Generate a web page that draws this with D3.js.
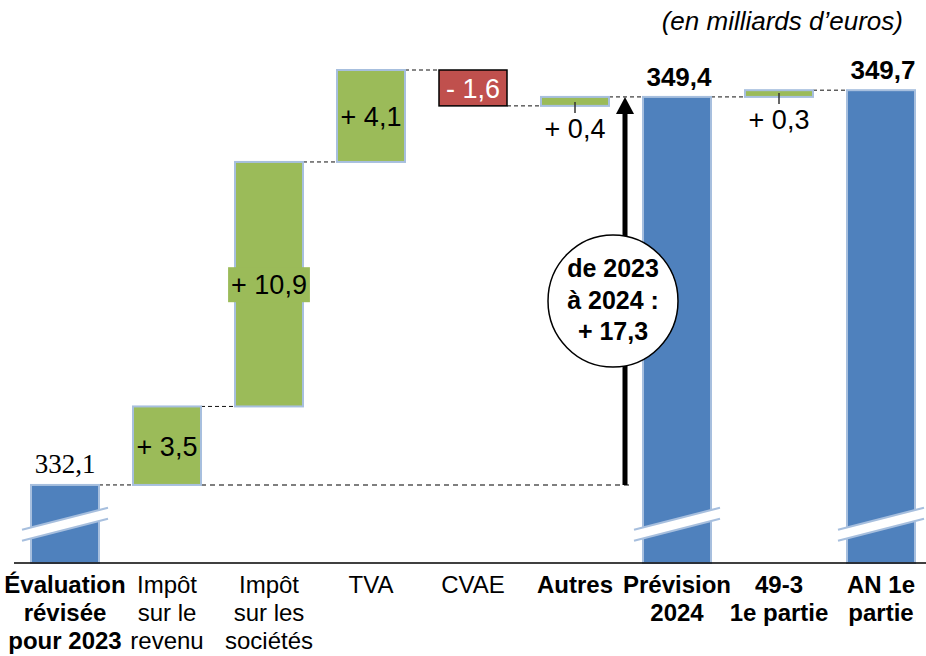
<!DOCTYPE html>
<html>
<head>
<meta charset="utf-8">
<script src="https://cdn.jsdelivr.net/npm/d3@7"></script>
<style>
  body { margin: 0; background: #fff; }
  svg { display: block; font-family: "Liberation Sans", Arial, sans-serif; }
</style>
</head>
<body>
<svg id="chart"></svg>
<script>
// data
const categories = [
  ["Évaluation", "révisée", "pour 2023"],
  ["Impôt", "sur le", "revenu"],
  ["Impôt", "sur les", "sociétés"],
  ["TVA"],
  ["CVAE"],
  ["Autres"],
  ["Prévision", "2024"],
  ["49-3", "1e partie"],
  ["AN 1e", "partie"]
]
const values = [332.1, 3.5, 10.9, 4.1, -1.6, 0.4, 349.4, 0.3, 349.7]
const kinds = ["total", "delta", "delta", "delta", "delta", "delta", "total", "delta", "total"]
const valueLabels = ["332,1", "+ 3,5", "+ 10,9", "+ 4,1", "- 1,6", "+ 0,4", "349,4", "+ 0,3", "349,7"]
const boldCategory = [true, false, false, false, false, true, true, true, true]
const unitLabel = "(en milliards d’euros)"
const bubbleLines = ["de 2023", "à 2024 :", "+ 17,3"]
const axisFloor = 328.62   // value shown at the broken baseline
const breakValue = 330.35  // where the axis break marks sit

const width = 926, height = 656
const baseY = 563

const svg = d3.select("#chart").attr("width", width).attr("height", height)

// running totals
let run = 0
const bars = values.map((v, i) => {
  let lo, hi
  if (kinds[i] === "total") { lo = axisFloor; hi = v; run = v }
  else { lo = run; hi = run + v; run = hi }
  return { i, v, kind: kinds[i], from: lo, to: hi, level: run }
})

const x = d3.scaleBand()
  .domain(d3.range(categories.length))
  .range([14, 932])
  .paddingInner(1 / 3)
  .paddingOuter(1 / 6)

const y = d3.scaleLinear()
  .domain([axisFloor, 350.6])
  .range([baseY, 70])

const bw = x.bandwidth()
const cx = i => x(i) + bw / 2

// connectors
const conn = svg.append("g")
bars.slice(0, -1).forEach((d, k) => {
  const x1 = x(k) + bw, x2 = x(k + 1)
  conn.append("line")
    .attr("x1", x1).attr("x2", x2)
    .attr("y1", y(d.level)).attr("y2", y(d.level))
    .attr("stroke", "#111").attr("stroke-width", 1)
    .attr("stroke-dasharray", "4,3")
})
// long reference line from 2023 level to the arrow
const arrowX = 625
conn.append("line")
  .attr("x1", x(1) + bw).attr("x2", arrowX + 8)
  .attr("y1", y(values[0])).attr("y2", y(values[0]))
  .attr("stroke", "#555").attr("stroke-width", 1.5)
  .attr("stroke-dasharray", "5,4")

// bars
const colorOf = d => d.kind === "total" ? "#4F81BD" : (d.v < 0 ? "#C0504D" : "#9BBB59")
svg.append("g").selectAll("rect")
  .data(bars)
  .join("rect")
  .attr("x", d => x(d.i))
  .attr("width", bw)
  .attr("y", d => y(Math.max(d.from, d.to)))
  .attr("height", d => Math.abs(y(d.from) - y(d.to)))
  .attr("fill", colorOf)
  .attr("stroke", d => d.v < 0 ? "#000" : "#A7BFDE")
  .attr("stroke-width", d => d.v < 0 ? 1.5 : 2)

// axis break marks on total bars
const bk = svg.append("g")
bars.filter(d => d.kind === "total").forEach(d => {
  const c = cx(d.i), yc = y(breakValue)
  const half = 43, rise = 11, gap = 5.5
  bk.append("path")
    .attr("d", `M${c - half},${yc + rise - gap} L${c + half},${yc - rise - gap} L${c + half},${yc - rise + gap} L${c - half},${yc + rise + gap} Z`)
    .attr("fill", "#fff")
  ;[-gap, gap].forEach(o => {
    bk.append("line")
      .attr("x1", c - half).attr("y1", yc + rise + o)
      .attr("x2", c + half).attr("y2", yc - rise + o)
      .attr("stroke", "#A7BFDE").attr("stroke-width", 2)
  })
})

// axis line
svg.append("line")
  .attr("x1", 14).attr("x2", width)
  .attr("y1", baseY).attr("y2", baseY)
  .attr("stroke", "#000").attr("stroke-width", 1.5)

// category labels
const cat = svg.append("g")
categories.forEach((lines, i) => {
  const t = cat.append("text")
    .attr("text-anchor", "middle")
    .attr("font-size", 24)
    .attr("font-weight", boldCategory[i] ? "bold" : "normal")
    .attr("fill", "#000")
  lines.forEach((s, j) => {
    t.append("tspan").attr("x", cx(i)).attr("y", 593 + j * 28).text(s)
  })
})

// value labels
const lab = svg.append("g").attr("font-size", 27)
bars.forEach(d => {
  const i = d.i
  if (d.kind === "total") {
    const t = lab.append("text")
      .attr("x", cx(i) + (i === 0 ? 0 : 2))
      .attr("y", y(d.to) - (i === 0 ? 12 : 11))
      .attr("text-anchor", "middle")
      .text(valueLabels[i])
    if (i === 0) t.attr("font-family", "'Liberation Serif', 'DejaVu Serif', serif").attr("font-size", 27)
    else t.attr("font-weight", "bold").attr("font-size", 26)
  } else if (Math.abs(y(d.from) - y(d.to)) > 25) {
    const mid = (y(d.from) + y(d.to)) / 2
    const t = lab.append("text")
      .attr("x", cx(i)).attr("y", mid + 10)
      .attr("text-anchor", "middle")
      .attr("fill", d.v < 0 ? "#fff" : "#000")
      .text(valueLabels[i])
    if (i === 2) {
      const b = t.node().getBBox()
      lab.insert("rect", "text")
        .attr("x", b.x - 3).attr("y", mid - 17)
        .attr("width", b.width + 6).attr("height", 35)
        .attr("fill", "#9BBB59")
    }
  } else {
    const bottom = y(Math.min(d.from, d.to))
    lab.append("line")
      .attr("x1", cx(i)).attr("x2", cx(i))
      .attr("y1", bottom - 4).attr("y2", bottom + 7)
      .attr("stroke", "#333").attr("stroke-width", 1.5)
    lab.append("text")
      .attr("x", cx(i)).attr("y", bottom + 32)
      .attr("text-anchor", "middle")
      .text(valueLabels[i])
  }
})

// arrow from 2023 level to 2024 level
const tipY = y(values[6])
svg.append("line")
  .attr("x1", arrowX).attr("x2", arrowX)
  .attr("y1", y(values[0])).attr("y2", tipY + 14)
  .attr("stroke", "#000").attr("stroke-width", 5)
svg.append("path")
  .attr("d", `M${arrowX},${tipY} L${arrowX + 9},${tipY + 17} L${arrowX - 9},${tipY + 17} Z`)
  .attr("fill", "#000")

// bubble
const bub = svg.append("g")
bub.append("ellipse")
  .attr("cx", 613).attr("cy", 301).attr("rx", 65).attr("ry", 66)
  .attr("fill", "#fff").attr("stroke", "#000").attr("stroke-width", 1.5)
bub.append("text")
  .attr("text-anchor", "middle").attr("font-weight", "bold").attr("font-size", 25)
  .selectAll("tspan").data(bubbleLines).join("tspan")
  .attr("x", 613).attr("y", (d, j) => 277 + j * 31.5)
  .text(d => d)

// unit
svg.append("text")
  .attr("x", 903).attr("y", 30)
  .attr("text-anchor", "end")
  .attr("font-style", "italic")
  .attr("font-size", 26)
  .text(unitLabel)
</script>
</body>
</html>
